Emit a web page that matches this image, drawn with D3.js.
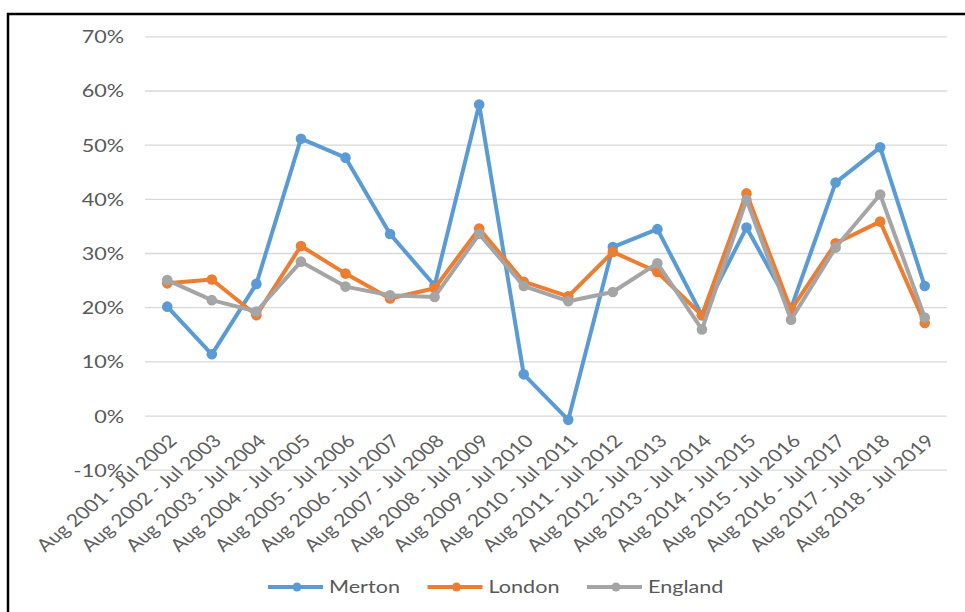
<!DOCTYPE html>
<html>
<head>
<meta charset="utf-8">
<script src="https://cdn.jsdelivr.net/npm/d3@7"></script>
<style>
  html, body { margin: 0; padding: 0; background: #fff; }
  svg { display: block; }
  text { font-family: Lato, "Open Sans", sans-serif; fill: #595959; }
</style>
</head>
<body>
<svg id="chart" width="965" height="612"></svg>
<script>
// Academic years
const categories = [
  "Aug 2001 - Jul 2002", "Aug 2002 - Jul 2003", "Aug 2003 - Jul 2004",
  "Aug 2004 - Jul 2005", "Aug 2005 - Jul 2006", "Aug 2006 - Jul 2007",
  "Aug 2007 - Jul 2008", "Aug 2008 - Jul 2009", "Aug 2009 - Jul 2010",
  "Aug 2010 - Jul 2011", "Aug 2011 - Jul 2012", "Aug 2012 - Jul 2013",
  "Aug 2013 - Jul 2014", "Aug 2014 - Jul 2015", "Aug 2015 - Jul 2016",
  "Aug 2016 - Jul 2017", "Aug 2017 - Jul 2018", "Aug 2018 - Jul 2019"
];

// Rates (%) per year
const merton  = [20.1, 11.3, 24.3, 51.1, 47.6, 33.5, 24.0, 57.4, 7.6, -0.8, 31.1, 34.4, 18.5, 34.7, 19.8, 43.0, 49.5, 23.9];
const london  = [24.4, 25.1, 18.5, 31.3, 26.2, 21.6, 23.5, 34.5, 24.7, 22.0, 30.2, 26.5, 18.5, 41.0, 19.5, 31.8, 35.8, 17.1];
const england = [25.0, 21.3, 19.2, 28.4, 23.8, 22.2, 21.9, 33.5, 23.9, 21.1, 22.8, 28.1, 15.9, 39.8, 17.7, 31.0, 40.8, 18.1];

const seriesNames  = ["Merton", "London", "England"];
const seriesColors = ["#5B9BD5", "#ED7D31", "#A5A5A5"];
const yTicks = [-10, 0, 10, 20, 30, 40, 50, 60, 70];

const series = [merton, london, england].map((vals, i) => ({
  name: seriesNames[i], color: seriesColors[i], values: vals
}));

const svg = d3.select("#chart");
const stretch = 1.2; // horizontal text scale

const plot = { left: 145, right: 947, top: 36.3, bottom: 469.7 };

const x = d3.scalePoint().domain(categories).range([plot.left, plot.right]).padding(0.5);
const y = d3.scaleLinear().domain([-10, 70]).range([plot.bottom, plot.top]);

// Chart frame (top and left edges)
svg.append("path")
  .attr("d", `M8,620 L8,14 L970,14`)
  .attr("fill", "none").attr("stroke", "#000").attr("stroke-width", 2.5);

// Gridlines and value labels
const yAxis = svg.append("g")
  .attr("transform", `translate(${plot.left},0)`)
  .call(d3.axisLeft(y).tickValues(yTicks)
    .tickSize(-(plot.right - plot.left)).tickPadding(0)
    .tickFormat(d => d + "%"));
yAxis.select(".domain").remove();
yAxis.selectAll(".tick line").attr("stroke", "#D9D9D9").attr("stroke-width", 1.3);
yAxis.selectAll(".tick text")
  .attr("x", null).attr("dy", "0.36em")
  .attr("transform", `translate(-21,0) scale(${stretch},1)`)
  .attr("text-anchor", "end")
  .style("font-size", "18px").style("fill", "#595959");

// Category labels, hanging from the zero line
const xAxis = svg.append("g")
  .attr("transform", `translate(0,${y(0)})`)
  .call(d3.axisBottom(x).tickSize(0).tickPadding(0));
xAxis.select(".domain").remove();
xAxis.selectAll(".tick text")
  .attr("y", null).attr("dy", "0.36em")
  .attr("text-anchor", "end")
  .attr("transform", `translate(5,22) scale(${stretch},1) rotate(-45)`)
  .style("font-size", "17.5px").style("fill", "#5f5f5f");

// Lines and markers
const line = d3.line().x((d, i) => x(categories[i])).y(d => y(d));
const g = svg.append("g");
series.forEach(s => {
  g.append("path")
    .datum(s.values)
    .attr("d", line)
    .attr("fill", "none")
    .attr("stroke", s.color)
    .attr("stroke-width", 4)
    .attr("stroke-linejoin", "round");
  g.selectAll(null).data(s.values).enter().append("circle")
    .attr("cx", (d, i) => x(categories[i]))
    .attr("cy", d => y(d))
    .attr("r", 5.3)
    .attr("fill", s.color);
});

// Legend
const lx = d3.scalePoint().domain(seriesNames).range([268, 587]);
const legendY = 587;
const lg = svg.append("g").selectAll("g").data(series).enter().append("g")
  .attr("transform", d => `translate(${lx(d.name)},${legendY})`);
lg.append("line").attr("x1", 0).attr("x2", 55).attr("y1", 0).attr("y2", 0)
  .attr("stroke", d => d.color).attr("stroke-width", 4);
lg.append("circle").attr("cx", 29).attr("cy", 0).attr("r", 4.5).attr("fill", d => d.color);
lg.append("text")
  .attr("transform", `translate(61,0) scale(${stretch},1)`)
  .attr("dy", "0.36em")
  .style("font-size", "18px").style("fill", "#595959")
  .text(d => d.name);
</script>
</body>
</html>
